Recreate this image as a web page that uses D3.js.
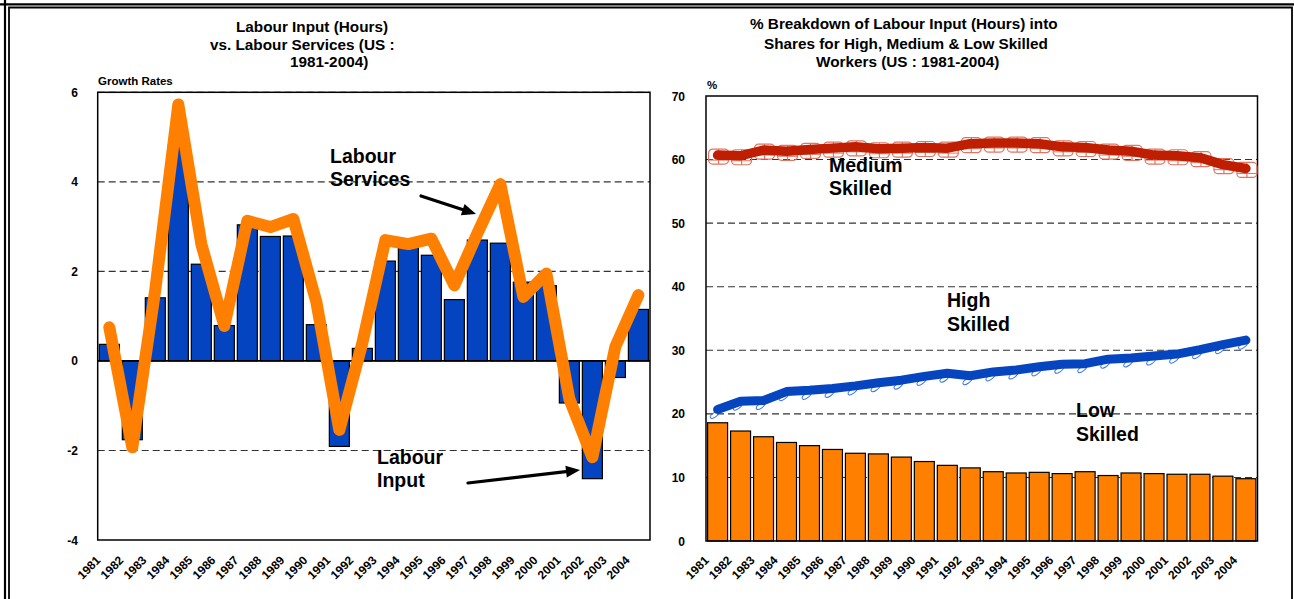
<!DOCTYPE html>
<html>
<head>
<meta charset="utf-8">
<script src="https://cdn.jsdelivr.net/npm/d3@7"></script>
<style>
  html, body { margin: 0; padding: 0; background: #fff; }
  svg { display: block; }
  text { font-family: "Liberation Sans", Arial, Helvetica, sans-serif; font-weight: bold; fill: #000; }
</style>
</head>
<body>
<svg id="chart" width="1294" height="599"></svg>
<script>
// ---------- DATA ----------
const years = ["1981","1982","1983","1984","1985","1986","1987","1988","1989","1990","1991","1992",
               "1993","1994","1995","1996","1997","1998","1999","2000","2001","2002","2003","2004"];
// Left chart: growth rates (%)
const labourInput    = [0.37,-1.76,1.41,4.82,2.16,0.79,3.04,2.78,2.79,0.81,-1.91,0.28,
                        2.23,2.56,2.36,1.37,2.70,2.63,1.76,1.68,-0.94,-2.63,-0.37,1.15];
const labourServices = [0.75,-1.93,1.6,5.73,2.61,0.78,3.13,2.99,3.17,1.32,-1.54,0.4,
                        2.70,2.61,2.73,1.69,2.85,3.95,1.43,1.95,-0.85,-2.15,0.32,1.47];
const leftTicks = [-4,-2,0,2,4,6];
// Right chart: shares (%)
const lowSkilled    = [18.6,17.3,16.4,15.5,15.0,14.4,13.8,13.7,13.2,12.5,11.9,11.5,
                       10.9,10.7,10.8,10.6,10.9,10.3,10.7,10.6,10.5,10.5,10.2,9.8];
const highSkilled   = [20.7,22.0,22.1,23.5,23.7,24.0,24.4,24.9,25.3,25.9,26.4,26.0,
                       26.6,26.9,27.4,27.8,27.9,28.6,28.8,29.1,29.4,30.1,30.9,31.6];
const mediumSkilled = [60.7,60.6,61.5,61.3,61.6,61.8,62.0,61.7,61.8,61.9,61.8,62.5,
                       62.6,62.6,62.5,62.0,61.9,61.5,61.3,60.7,60.6,60.3,59.2,58.6];
const rightTicks = [0,10,20,30,40,50,60,70];

// ---------- SETUP ----------
const svg = d3.select("#chart");

// outer frame
svg.append("line").attr("x1",0).attr("x2",1294).attr("y1",4.3).attr("y2",4.3).attr("stroke","#000").attr("stroke-width",2.2);
svg.append("line").attr("x1",5).attr("x2",5).attr("y1",0).attr("y2",599).attr("stroke","#000").attr("stroke-width",2.2);
svg.append("path").attr("d","M9,599 V7.5 H1292 V599").attr("fill","none").attr("stroke","#000").attr("stroke-width",1.8);

const fontTick = 12;

function arrow(g, x1, y1, x2, y2) {
  const ang = Math.atan2(y2 - y1, x2 - x1);
  const len = 14, wid = 6;
  const bx = x2 - len * Math.cos(ang), by = y2 - len * Math.sin(ang);
  g.append("line").attr("x1",x1).attr("y1",y1).attr("x2",bx + 2*Math.cos(ang)).attr("y2",by + 2*Math.sin(ang))
    .attr("stroke","#000").attr("stroke-width",3.2).attr("stroke-linecap","round");
  const px = -Math.sin(ang), py = Math.cos(ang);
  g.append("path")
    .attr("d", `M${x2},${y2} L${bx + wid*px},${by + wid*py} L${bx - wid*px},${by - wid*py} Z`)
    .attr("fill","#000");
}

function xLabels(g, x, yBase) {
  g.selectAll("text.xl").data(years).join("text")
    .attr("class","xl")
    .attr("font-size", fontTick)
    .attr("text-anchor","end")
    .attr("transform", d => `translate(${x(d) + x.bandwidth()/2 - 8},${yBase}) rotate(-45)`)
    .text(d => d);
}

// ---------- LEFT CHART ----------
{
  const L = { x0: 97.7, x1: 650, y0: 92.3, y1: 540 };
  const g = svg.append("g");
  const x = d3.scaleBand().domain(years).range([L.x0, L.x1]).paddingInner(0.13).paddingOuter(0.07);
  const y = d3.scaleLinear().domain([-4, 6]).range([L.y1, L.y0]);

  // title
  const tl = [["Labour Input (Hours)",236,32],["vs. Labour Services (US :",210,50],["1981-2004)",290,67]];
  tl.forEach(t => g.append("text").attr("x",t[1]).attr("y",t[2]).attr("font-size",15.3).text(t[0]));
  g.append("text").attr("x",98).attr("y",85).attr("font-size",11.5).text("Growth Rates");

  // gridlines
  g.selectAll("line.grid").data(leftTicks.filter(v => v !== 0 && v !== -4)).join("line")
    .attr("class","grid")
    .attr("x1",L.x0).attr("x2",L.x1)
    .attr("y1",d => y(d)).attr("y2",d => y(d))
    .attr("stroke","#333").attr("stroke-width",1.1).attr("stroke-dasharray","7,4");

  // y tick labels
  g.selectAll("text.yl").data(leftTicks).join("text")
    .attr("class","yl").attr("font-size",fontTick).attr("text-anchor","end")
    .attr("x",78).attr("y",d => y(d) + 4.5).text(d => d);

  // bars
  g.selectAll("rect.bar").data(years).join("rect")
    .attr("class","bar")
    .attr("x",d => x(d)).attr("width",x.bandwidth())
    .attr("y",(d,i) => y(Math.max(0, labourInput[i])))
    .attr("height",(d,i) => Math.abs(y(labourInput[i]) - y(0)))
    .attr("fill","#0544C0").attr("stroke","#000").attr("stroke-width",1.2);

  // zero line
  g.append("line").attr("x1",L.x0).attr("x2",L.x1).attr("y1",y(0)).attr("y2",y(0))
    .attr("stroke","#000").attr("stroke-width",1.6);

  // plot box
  g.append("rect").attr("x",L.x0).attr("y",L.y0).attr("width",L.x1-L.x0).attr("height",L.y1-L.y0)
    .attr("fill","none").attr("stroke","#000").attr("stroke-width",1.5);

  // labour services line
  const line = d3.line().x((d,i) => x(years[i]) + x.bandwidth()/2).y(d => y(d));
  g.append("path").datum(labourServices).attr("d",line)
    .attr("fill","none").attr("stroke","#FF8000").attr("stroke-width",12)
    .attr("stroke-linejoin","round").attr("stroke-linecap","round");

  // annotations
  g.append("text").attr("x",330).attr("y",163).attr("font-size",19.5).text("Labour");
  g.append("text").attr("x",330).attr("y",186).attr("font-size",19.5).text("Services");
  arrow(g, 421, 196, 476, 214);
  g.append("text").attr("x",377).attr("y",464).attr("font-size",19.5).text("Labour");
  g.append("text").attr("x",377).attr("y",487).attr("font-size",19.5).text("Input");
  arrow(g, 468, 483, 580, 470);

  xLabels(g, x, 561);
}

// ---------- RIGHT CHART ----------
{
  const R = { x0: 706, x1: 1257.5, y0: 96, y1: 541 };
  const g = svg.append("g");
  const x = d3.scaleBand().domain(years).range([R.x0, R.x1]).paddingInner(0.13).paddingOuter(0.07);
  const y = d3.scaleLinear().domain([0, 70]).range([R.y1, R.y0]);
  const cx = (d,i) => x(years[i]) + x.bandwidth()/2;

  const tr = [["% Breakdown of Labour Input (Hours) into",750,29],["Shares for High, Medium & Low Skilled",764,49],["Workers (US : 1981-2004)",816,67]];
  tr.forEach(t => g.append("text").attr("x",t[1]).attr("y",t[2]).attr("font-size",15.3).text(t[0]));
  g.append("text").attr("x",707).attr("y",89).attr("font-size",11.5).text("%");

  g.selectAll("line.grid").data(rightTicks.filter(v => v !== 0 && v !== 70)).join("line")
    .attr("class","grid")
    .attr("x1",R.x0).attr("x2",R.x1)
    .attr("y1",d => y(d)).attr("y2",d => y(d))
    .attr("stroke","#333").attr("stroke-width",1.1).attr("stroke-dasharray","7,4");

  g.selectAll("text.yl").data(rightTicks).join("text")
    .attr("class","yl").attr("font-size",fontTick).attr("text-anchor","end")
    .attr("x",685).attr("y",d => y(d) + 4.5).text(d => d);

  // low skilled bars
  g.selectAll("rect.bar").data(years).join("rect")
    .attr("class","bar")
    .attr("x",d => x(d)).attr("width",x.bandwidth())
    .attr("y",(d,i) => y(lowSkilled[i]))
    .attr("height",(d,i) => y(0) - y(lowSkilled[i]))
    .attr("fill","#FF8000").attr("stroke","#000").attr("stroke-width",1.2);

  g.append("rect").attr("x",R.x0).attr("y",R.y0).attr("width",R.x1-R.x0).attr("height",R.y1-R.y0)
    .attr("fill","none").attr("stroke","#000").attr("stroke-width",1.5);

  // medium skilled markers (hollow pattern boxes)
  const mm = g.selectAll("g.mm").data(mediumSkilled).join("g").attr("class","mm")
    .attr("transform",(d,i) => `translate(${cx(d,i) + 1},${y(d) + 1})`);
  mm.append("rect").attr("x",-10).attr("y",-7).attr("width",20).attr("height",15).attr("rx",4)
    .attr("fill","none").attr("stroke","#E07563").attr("stroke-width",1.2);
  mm.append("line").attr("x1",0).attr("x2",0).attr("y1",-7).attr("y2",8).attr("stroke","#E07563").attr("stroke-width",1.2);
  mm.append("line").attr("x1",-10).attr("x2",10).attr("y1",4).attr("y2",4).attr("stroke","#E07563").attr("stroke-width",1);

  // high skilled markers
  g.selectAll("ellipse.hm").data(highSkilled).join("ellipse").attr("class","hm")
    .attr("transform",(d,i) => `translate(${cx(d,i) - 3},${y(d) + 5.5}) rotate(-35)`)
    .attr("rx",5).attr("ry",2.2).attr("fill","none").attr("stroke","#3F74DD").attr("stroke-width",1);

  const line = d3.line().x(cx).y(d => y(d));
  g.append("path").datum(mediumSkilled).attr("d",line)
    .attr("fill","none").attr("stroke","#C01E00").attr("stroke-width",9.5)
    .attr("stroke-linejoin","round").attr("stroke-linecap","round");
  g.append("path").datum(highSkilled).attr("d",line)
    .attr("fill","none").attr("stroke","#0545C0").attr("stroke-width",9)
    .attr("stroke-linejoin","round").attr("stroke-linecap","round");

  g.append("text").attr("x",829).attr("y",172).attr("font-size",19.5).text("Medium");
  g.append("text").attr("x",829).attr("y",195).attr("font-size",19.5).text("Skilled");
  g.append("text").attr("x",947).attr("y",307).attr("font-size",19.5).text("High");
  g.append("text").attr("x",947).attr("y",331).attr("font-size",19.5).text("Skilled");
  g.append("text").attr("x",1076).attr("y",417).attr("font-size",19.5).text("Low");
  g.append("text").attr("x",1076).attr("y",441).attr("font-size",19.5).text("Skilled");

  xLabels(g, x, 561);
}
</script>
</body>
</html>
